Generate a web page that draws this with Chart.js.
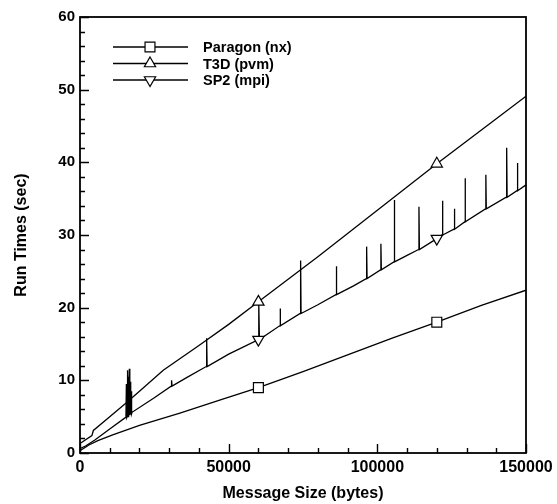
<!DOCTYPE html>
<html><head><meta charset="utf-8">
<script src="https://cdn.jsdelivr.net/npm/chart.js@4.4.1/dist/chart.umd.min.js"></script>
<style>html,body{margin:0;padding:0;background:#fff}</style>
</head><body>
<canvas id="c" width="557" height="504" style="width:557px;height:504px;display:block"></canvas>
<script>
// ---- data ----
const paragonX = [0, 3000, 6000, 11000, 20000, 33600, 48000, 60000, 75000, 90000, 105000, 120000, 135000, 150000];
const paragonY = [0.3, 1.1, 1.7, 2.5, 3.8, 5.5, 7.4, 9.0, 11.2, 13.5, 15.8, 18.0, 20.3, 22.4];

const t3dX = [0, 4000, 4500, 10000, 15000, 20000, 28000, 40000, 50000, 60000, 70000, 80000, 90000, 100000, 110000, 120000, 130000, 140000, 150000];
const t3dY = [1.3, 2.4, 3.1, 5.0, 6.7, 8.5, 11.4, 14.8, 17.7, 20.8, 23.9, 27.0, 30.2, 33.4, 36.6, 39.8, 42.9, 46.0, 49.1];

const sp2BaseX = [0, 2000, 5000, 10000, 15000, 17500, 25000, 30800, 36000, 42600, 50000, 60000, 67300, 74200, 80000, 86200, 92000, 96400, 101200, 105700, 110000, 114000, 120000, 125900, 129500, 136500, 143500, 147100, 150000];
const sp2BaseY = [0.6, 1.0, 1.8, 3.3, 4.8, 5.6, 7.6, 9.2, 10.4, 11.9, 13.6, 15.6, 17.5, 19.2, 20.4, 21.8, 23.0, 24.0, 25.2, 26.3, 27.2, 28.0, 29.5, 30.8, 31.8, 33.6, 35.2, 36.1, 36.9];
// spikes on the SP2 curve: position, base level, peak
const spikeX    = [15600, 16000, 16300, 16600, 16900, 17200, 30800, 42600, 60200, 67300, 74200, 86200, 96400, 101200, 105700, 114000, 121900, 125900, 129500, 136500, 143500, 147100];
const spikeBase = [4.9, 5.0, 5.1, 5.2, 5.3, 5.4, 9.2, 11.9, 15.6, 17.5, 19.2, 21.8, 24.0, 25.2, 26.3, 28.0, 30.0, 30.8, 31.8, 33.6, 35.2, 36.1];
const spikeTop  = [9.5, 11.4, 10.5, 11.6, 9.8, 8.5, 10.0, 15.8, 20.6, 19.9, 26.5, 25.7, 28.4, 28.8, 34.8, 33.9, 34.7, 33.6, 37.8, 38.3, 42.0, 39.9];

const markerX = [60000, 120000];
const seriesNames = ['Paragon (nx)', 'T3D (pvm)', 'SP2 (mpi)'];
const xTickValues = [0, 50000, 100000, 150000];
const yTickValues = [0, 10, 20, 30, 40, 50, 60];
const xMinorStep = 10000, yMinorStep = 2;

// ---- build series ----
const zip = (xs, ys) => xs.map((x, i) => ({x, y: ys[i]}));
const sp2 = zip(sp2BaseX, sp2BaseY);
spikeX.forEach((sx, i) => {
  sp2.push({x: sx - 150, y: spikeBase[i], s: 1});
  sp2.push({x: sx, y: spikeTop[i], s: 1});
  sp2.push({x: sx + 150, y: spikeBase[i], s: 1});
});
sp2.sort((a, b) => a.x - b.x);

const markerRadius = (r) => (c) => (c.raw && !c.raw.s && markerX.includes(c.raw.x)) ? r : 0;

const FONT = '"Liberation Sans", Arial, Helvetica, sans-serif';

const framePlugin = {
  id: 'frame',
  afterDraw(chart) {
    const {ctx, chartArea: a, scales: {x, y}} = chart;
    ctx.save();
    ctx.strokeStyle = '#000';
    ctx.lineWidth = 1.8;
    ctx.strokeRect(a.left, a.top, a.right - a.left, a.bottom - a.top);
    ctx.lineWidth = 1.4;
    ctx.beginPath();
    for (let v = x.min; v <= x.max; v += xMinorStep) {
      const px = Math.round(x.getPixelForValue(v)) + 0.5;
      const len = xTickValues.includes(v) ? 9 : 5;
      ctx.moveTo(px, a.bottom); ctx.lineTo(px, a.bottom - len);
    }
    for (let v = y.min; v <= y.max; v += yMinorStep) {
      const py = Math.round(y.getPixelForValue(v)) + 0.5;
      const len = yTickValues.includes(v) ? 9 : 5;
      ctx.moveTo(a.left, py); ctx.lineTo(a.left + len, py);
    }
    ctx.stroke();
    ctx.restore();
  }
};

const legendPlugin = {
  id: 'lineLegend',
  afterDraw(chart) {
    const ctx = chart.ctx;
    ctx.save();
    chart.data.datasets.forEach((ds, i) => {
      const y = 47 + i * 16.5;
      ctx.strokeStyle = ds.borderColor;
      ctx.lineWidth = ds.borderWidth;
      ctx.beginPath(); ctx.moveTo(113, y); ctx.lineTo(188, y); ctx.stroke();
      ctx.fillStyle = '#fff';
      ctx.lineWidth = 1.2;
      Chart.helpers.drawPoint(ctx, {pointStyle: ds.pointStyle, rotation: ds.pointRotation || 0, radius: ds.legendRadius, borderWidth: 1.2}, 150, y);
      ctx.fillStyle = '#000';
      ctx.font = 'bold 14.5px ' + FONT;
      ctx.textBaseline = 'middle';
      ctx.textAlign = 'left';
      ctx.fillText(ds.label, 203, y + 1);
    });
    ctx.restore();
  }
};

const common = {showLine: true, borderColor: '#000', borderWidth: 1.3, pointBackgroundColor: '#fff', pointBorderColor: '#000', pointBorderWidth: 1.2, pointHoverRadius: 0, tension: 0};

new Chart(document.getElementById('c'), {
  type: 'scatter',
  data: {
    datasets: [
      Object.assign({label: seriesNames[0], data: zip(paragonX, paragonY), pointStyle: 'rect', pointRadius: markerRadius(7), legendRadius: 7}, common),
      Object.assign({label: seriesNames[1], data: zip(t3dX, t3dY), pointStyle: 'triangle', pointRadius: markerRadius(6.5), legendRadius: 6.5}, common),
      Object.assign({label: seriesNames[2], data: sp2, pointStyle: 'triangle', pointRotation: 180, pointRadius: markerRadius(6.5), legendRadius: 6.5}, common)
    ]
  },
  options: {
    responsive: false,
    animation: false,
    devicePixelRatio: 1,
    layout: {padding: {top: 17, right: 31, left: 0, bottom: 0}},
    plugins: {legend: {display: false}, tooltip: {enabled: false}},
    scales: {
      x: {
        type: 'linear', min: 0, max: 150000,
        afterBuildTicks: s => { s.ticks = xTickValues.map(v => ({value: v})); },
        afterFit: s => { s.height = 51; s.paddingLeft = 0; s.paddingRight = 0; },
        grid: {display: false, drawTicks: false},
        border: {display: false},
        ticks: {color: '#000', padding: 5, maxRotation: 0, autoSkip: false, font: {family: FONT, size: 16, weight: 'bold'}, callback: v => String(v)},
        title: {display: true, text: 'Message Size (bytes)', color: '#000', font: {family: FONT, size: 16, weight: 'bold'}, padding: {top: 0, bottom: 1}}
      },
      y: {
        type: 'linear', min: 0, max: 60,
        afterBuildTicks: s => { s.ticks = yTickValues.map(v => ({value: v})); },
        afterFit: s => { s.width = 80; s.paddingTop = 0; s.paddingBottom = 0; },
        grid: {display: false, drawTicks: false},
        border: {display: false},
        ticks: {color: '#000', padding: 5, autoSkip: false, font: {family: FONT, size: 15, weight: 'bold'}, callback: v => String(v)},
        title: {display: true, text: 'Run Times (sec)', color: '#000', font: {family: FONT, size: 16, weight: 'bold'}, padding: {top: 12, bottom: 0}}
      }
    }
  },
  plugins: [framePlugin, legendPlugin]
});
</script>
</body></html>
